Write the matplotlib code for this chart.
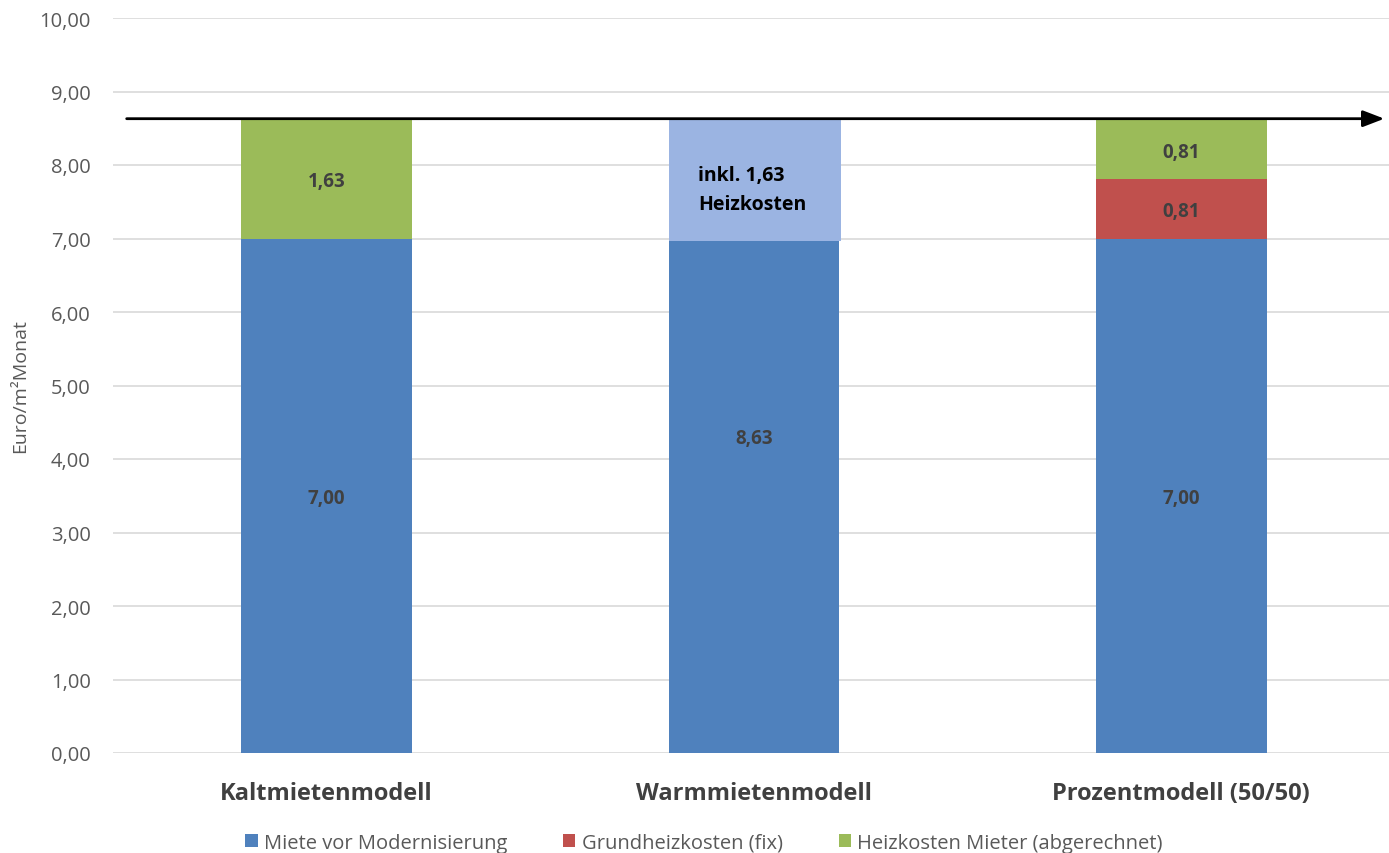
import matplotlib.pyplot as plt
import numpy as np

plt.rcParams['font.family'] = ['Open Sans', 'DejaVu Sans']

# Daten (Euro/m² Monat)
modelle = ['Kaltmietenmodell', 'Warmmietenmodell', 'Prozentmodell (50/50)']
miete = [7.00, 8.63, 7.00]
grundheiz = [0.00, 0.00, 0.81]
heiz_mieter = [1.63, 0.00, 0.81]
heiz_inkl = 1.63
ziel = 8.63

c_blau = '#4F81BD'
c_rot = '#C0504D'
c_gruen = '#9BBB59'
c_hellblau = '#9BB4E2'
c_text = '#404040'

fig = plt.figure(figsize=(13.89, 8.54), dpi=100)
ax = fig.add_axes([113 / 1389, 100 / 854, 1282 / 1389, 735 / 854])

x = np.arange(len(modelle))
b = 0.4
miete = np.array(miete)
grundheiz = np.array(grundheiz)
heiz_mieter = np.array(heiz_mieter)

ax.bar(x, miete, b, color=c_blau, label='Miete vor Modernisierung', zorder=2)
ax.bar(x, grundheiz, b, bottom=miete, color=c_rot, label='Grundheizkosten (fix)', zorder=2)
ax.bar(x, heiz_mieter, b, bottom=miete + grundheiz, color=c_gruen,
       label='Heizkosten Mieter (abgerechnet)', zorder=2)

# Wertelabels
def fmt(v):
    return f'{v:.2f}'.replace('.', ',')

lab = dict(ha='center', va='center_baseline', fontsize=13.5, fontweight='bold',
           color=c_text, zorder=4)
for i in range(len(modelle)):
    ax.text(x[i], miete[i] / 2, fmt(miete[i]), **lab)
    if grundheiz[i] > 0:
        ax.text(x[i], miete[i] + grundheiz[i] / 2, fmt(grundheiz[i]), **lab)
    if heiz_mieter[i] > 0:
        ax.text(x[i], miete[i] + grundheiz[i] + heiz_mieter[i] / 2, fmt(heiz_mieter[i]), **lab)

# Kasten Warmmiete: inkl. Heizkosten
ax.bar(x[1] + 0.002, heiz_inkl + 0.03, b + 0.004, bottom=miete[1] - heiz_inkl - 0.03,
       color=c_hellblau, zorder=3)
ax.text(x[1] - 0.13, miete[1] - heiz_inkl / 2 - 0.15, 'inkl. 1,63\nHeizkosten', ha='left',
        va='center', fontsize=14, fontweight='bold', color='black', linespacing=1.55, zorder=4)

# Pfeil auf Höhe der Gesamtkosten
ax.annotate('', xy=(2.475, ziel), xytext=(-0.468, ziel),
            arrowprops=dict(arrowstyle='-|>,head_length=1.3,head_width=0.5',
                            color='black', lw=2, shrinkA=0, shrinkB=0), zorder=5)

ax.set_xlim(-0.5, 2.5)
ax.set_ylim(0, 10)
ax.set_yticks(np.arange(0, 11, 1))
ax.set_yticklabels([fmt(v) for v in np.arange(0, 11, 1)], fontsize=14.5, color='#595959')
ax.set_xticks(x)
ax.set_xticklabels(modelle, fontsize=17, fontweight='bold', color=c_text)
ax.tick_params(length=0)
ax.tick_params(axis='x', pad=20)
ax.tick_params(axis='y', pad=16)
ax.grid(axis='y', color='#D9D9D9', lw=1.2, zorder=0)
ax.set_axisbelow(True)
for s in ax.spines.values():
    s.set_visible(False)

ax.set_ylabel('Euro/m²Monat', fontsize=14, color='#595959')
ax.yaxis.set_label_coords(-0.0655, 0.5)

ax.legend(loc='upper center', bbox_to_anchor=(0.5 - 50 / 1282, -0.084), ncol=3, frameon=False,
          fontsize=14.5, labelcolor='#595959', handlelength=0.6, handleheight=0.6,
          handletextpad=0.3, columnspacing=2.8)

fig.savefig('out.png', dpi=100)
